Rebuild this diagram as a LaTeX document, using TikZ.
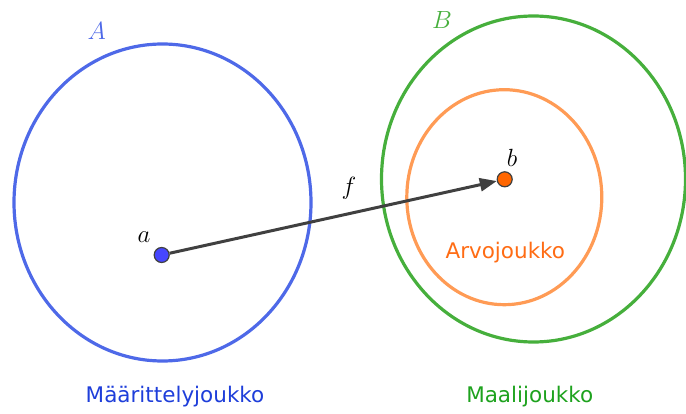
\documentclass[tikz,border=0pt]{standalone}
\usepackage{fontspec}
\newfontfamily\labelfont{DejaVu Sans}
\usetikzlibrary{arrows.meta}
\definecolor{cblue}{RGB}{78,105,232}
\definecolor{tblue}{RGB}{30,62,218}
\definecolor{cgreen}{RGB}{70,175,60}
\definecolor{tgreen}{RGB}{30,162,30}
\definecolor{corange}{RGB}{255,155,85}
\definecolor{torange}{RGB}{255,108,20}
\definecolor{pblue}{RGB}{70,70,255}
\definecolor{porange}{RGB}{255,102,0}
\definecolor{arrowgray}{RGB}{64,64,64}
\tikzset{
  setline/.style={line width=3.2pt},
  pointnode/.style={circle,draw=arrowgray,line width=1.2pt,minimum size=15pt,inner sep=0pt},
  mathlabel/.style={font=\fontsize{25}{25}\selectfont,inner sep=0pt},
  setname/.style={font=\labelfont\fontsize{21.5}{21.5}\selectfont,inner sep=0pt}
}
\begin{document}
\begin{tikzpicture}[x=1pt,y=-1pt]
\useasboundingbox (0,0) rectangle (686,414);
% sets
\draw[setline,cblue] (162.5,202.5) ellipse [x radius=148.5,y radius=158.5];
\draw[setline,cgreen] (533.5,179) ellipse [x radius=152,y radius=163];
\draw[setline,corange] (504.3,197.2) ellipse [x radius=97.5,y radius=107.5];
% points
\node[pointnode,fill=pblue] (a) at (161.7,255) {};
\node[pointnode,fill=porange] (b) at (504.7,179.3) {};
% arrow
\draw[arrowgray,line width=3pt,-{Triangle[length=17pt,width=13pt]}] (a) -- (b);
% labels
\node[mathlabel,text=cblue] (lA) at (96.7,31) {$A$};
\node[mathlabel,text=cgreen] (lB) at (442,20) {$B$};
\node[mathlabel] (la) at (144,237) {$a$};
\node[mathlabel] (lb) at (512,158) {$b$};
\node[mathlabel] (lf) at (349,188) {$f$};
\node[setname,text=torange] (arvo) at (505.3,252.3) {Arvojoukko};
\node[setname,text=tblue] (maar) at (175,396.7) {Määrittelyjoukko};
\node[setname,text=tgreen] (maali) at (529.7,396.7) {Maalijoukko};
\end{tikzpicture}
\end{document}
